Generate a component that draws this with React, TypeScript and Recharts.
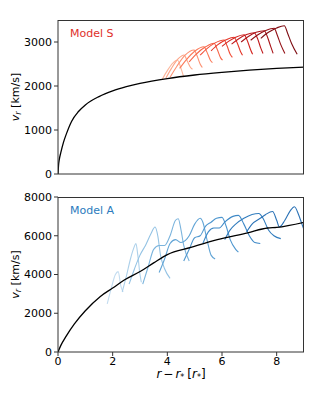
import React from "react";
import { LineChart, Line, XAxis, YAxis } from "recharts";

const FONT = "DejaVu Sans, Verdana, sans-serif";

// x positions in r - r* [r*], velocities in km/s
const xTicks = [0, 2, 4, 6, 8];
const sTicks = [0, 1000, 2000, 3000];
const aTicks = [0, 2000, 4000, 6000, 8000];

const sMean: [number, number][] = [
  [0, 0], [0.02, 200], [0.05, 340], [0.1, 480], [0.2, 720], [0.3, 900],
  [0.5, 1200], [0.75, 1420], [1, 1570], [1.5, 1760], [2, 1890], [2.5, 1985],
  [3, 2060], [4, 2170], [5, 2250], [6, 2310], [7, 2360], [8, 2400], [9, 2430],
];

const sShells: [number, number][][] = [
  [[3.82, 2160], [4.0, 2350], [4.2, 2520], [4.37, 2590], [4.5, 2400], [4.6, 2200]],
  [[3.95, 2180], [4.15, 2400], [4.4, 2620], [4.61, 2705], [4.72, 2580], [4.85, 2420], [4.92, 2380]],
  [[4.1, 2200], [4.35, 2450], [4.65, 2700], [4.98, 2818], [5.08, 2700], [5.2, 2500], [5.28, 2420]],
  [[4.45, 2400], [4.7, 2600], [5.0, 2790], [5.34, 2893], [5.45, 2770], [5.58, 2580], [5.65, 2530]],
  [[4.8, 2550], [5.05, 2720], [5.4, 2890], [5.71, 2970], [5.82, 2840], [5.95, 2640], [6.02, 2590]],
  [[5.2, 2700], [5.45, 2850], [5.75, 2980], [6.08, 3045], [6.18, 2920], [6.3, 2720], [6.38, 2650]],
  [[5.6, 2800], [5.85, 2940], [6.15, 3050], [6.44, 3107], [6.55, 2990], [6.68, 2780], [6.75, 2700]],
  [[6.0, 2900], [6.25, 3020], [6.5, 3110], [6.81, 3166], [6.92, 3040], [7.05, 2820], [7.12, 2720]],
  [[6.35, 2950], [6.6, 3070], [6.9, 3170], [7.18, 3211], [7.3, 3080], [7.42, 2860], [7.5, 2740]],
  [[6.7, 3000], [6.95, 3120], [7.25, 3220], [7.55, 3257], [7.66, 3120], [7.78, 2900], [7.87, 2740]],
  [[7.05, 3040], [7.3, 3160], [7.6, 3260], [7.91, 3311], [8.02, 3160], [8.15, 2940], [8.3, 2740]],
  [[7.42, 3084], [7.7, 3220], [8.0, 3320], [8.28, 3370], [8.4, 3200], [8.55, 2960], [8.75, 2720]],
];

const sColors = [
  "#fcb79c", "#fca689", "#fc9172", "#fb7a5a", "#f76447", "#f14c36",
  "#e33629", "#d42621", "#c0191c", "#a91318", "#930f15", "#7e0c12",
];

const aMean: [number, number][] = [
  [0, 0], [0.1, 330], [0.3, 820], [0.6, 1450], [1.0, 2130], [1.55, 2870],
  [2.0, 3300], [2.41, 3700], [3.02, 4165], [3.5, 4600], [4.0, 5030], [4.86, 5400],
  [5.83, 5800], [6.94, 6150], [7.67, 6400], [8.0, 6430], [9.0, 6690],
];

const aShells: [number, number][][] = [
  [[1.8, 2480], [1.95, 3300], [2.1, 4000], [2.2, 4150], [2.3, 3400], [2.38, 3100]],
  [[2.35, 3100], [2.5, 3900], [2.65, 4800], [2.78, 5400], [2.85, 5600], [2.92, 5000], [3.0, 4000], [3.05, 3600]],
  [[2.6, 3500], [2.8, 4300], [3.0, 5000], [3.2, 5500], [3.4, 6100], [3.55, 6450], [3.65, 6000], [3.75, 5000], [3.9, 4300], [4.1, 3800]],
  [[3.1, 3500], [3.3, 4400], [3.5, 5300], [3.7, 5500], [3.9, 5500], [4.1, 6000], [4.3, 6800], [4.4, 6880], [4.5, 6300], [4.6, 5500], [4.8, 4700]],
  [[3.7, 4100], [3.9, 4800], [4.1, 5600], [4.3, 5800], [4.5, 5650], [4.8, 6000], [5.0, 6600], [5.2, 6900], [5.3, 6700], [5.45, 5800], [5.6, 5000], [5.75, 4800]],
  [[4.6, 4700], [4.8, 5300], [5.0, 5900], [5.2, 6000], [5.4, 6500], [5.6, 6700], [5.8, 6900], [6.0, 6950], [6.15, 6500], [6.3, 5800], [6.5, 5300], [6.6, 5150]],
  [[5.3, 5600], [5.5, 6200], [5.7, 6400], [5.9, 6400], [6.1, 6700], [6.4, 7000], [6.6, 7050], [6.8, 6600], [7.0, 6000], [7.2, 5650], [7.4, 5600]],
  [[6.1, 5800], [6.3, 6300], [6.5, 6600], [6.8, 6900], [7.1, 7100], [7.35, 7150], [7.5, 6900], [7.7, 6300], [7.9, 6000], [8.15, 5850]],
  [[6.9, 6200], [7.1, 6600], [7.4, 6900], [7.6, 7100], [7.85, 7250], [8.0, 6800], [8.1, 6450], [8.3, 6800], [8.5, 7300], [8.65, 7500], [8.8, 7100], [8.9, 6700], [9.0, 6300]],
];

const aColors = [
  "#c2dcf0", "#acd0ea", "#94c3e4", "#7bb4dd", "#62a5d6", "#4f97cf",
  "#3f89c7", "#327dbe", "#2a72b6",
];

const toPts = (arr: [number, number][]) => arr.map(([x, v]) => ({ x, v }));

const AXIS = "#333";
const PLOT_LEFT = 58;
const PLOT_RIGHT = 16;

function YLabel(props: any) {
  const { viewBox } = props;
  const cx = viewBox.x + 11;
  const cy = viewBox.y + viewBox.height / 2;
  return (
    <text
      x={cx}
      y={cy}
      transform={`rotate(-90, ${cx}, ${cy})`}
      textAnchor="middle"
      fontSize={11}
      fontFamily={FONT}
      fill="#000"
    >
      <tspan fontStyle="italic">v</tspan>
      <tspan fontSize={8} fontStyle="italic" dy={2}>r</tspan>
      <tspan dy={-2}> [km/s]</tspan>
    </text>
  );
}

function XLabel(props: any) {
  const { viewBox } = props;
  const cx = viewBox.x + viewBox.width / 2;
  const cy = viewBox.y + 26;
  return (
    <text x={cx} y={cy} textAnchor="middle" fontSize={12} fontFamily={FONT} fill="#000">
      <tspan fontStyle="italic">r</tspan>
      <tspan dx={2}>−</tspan>
      <tspan dx={2} fontStyle="italic">r</tspan>
      <tspan fontSize={8} dy={2}>*</tspan>
      <tspan dy={-2} dx={3}>[</tspan>
      <tspan fontStyle="italic">r</tspan>
      <tspan fontSize={8} dy={2}>*</tspan>
      <tspan dy={-2}>]</tspan>
    </text>
  );
}

function Panel({
  mean,
  shells,
  colors,
  yMax,
  yTicks,
  title,
  titleColor,
  top,
  height,
  marginTop,
  xAxisHeight,
  showX,
}: {
  mean: [number, number][];
  shells: [number, number][][];
  colors: string[];
  yMax: number;
  yTicks: number[];
  title: string;
  titleColor: string;
  top: number;
  height: number;
  marginTop: number;
  xAxisHeight: number;
  showX: boolean;
}) {
  const tickStyle = { fill: "#000", fontSize: 11, fontFamily: FONT };
  return (
    <div style={{ position: "absolute", left: 0, top, width: 320, height }}>
      <LineChart width={320} height={height} margin={{ top: marginTop, right: PLOT_RIGHT, left: 8, bottom: 0 }}>
        <XAxis
          dataKey="x"
          type="number"
          domain={[0, 9]}
          ticks={xTicks}
          allowDataOverflow
          height={xAxisHeight}
          tick={showX ? tickStyle : false}
          tickSize={4}
          tickMargin={1}
          stroke={AXIS}
          tickLine={{ stroke: AXIS }}
          label={showX ? <XLabel /> : undefined}
        />
        <YAxis
          type="number"
          domain={[0, yMax]}
          ticks={yTicks}
          allowDataOverflow
          width={50}
          tick={tickStyle}
          tickSize={4}
          tickMargin={2}
          stroke={AXIS}
          tickLine={{ stroke: AXIS }}
          label={<YLabel />}
        />
        {shells.map((s, i) => (
          <Line
            key={`s${i}`}
            data={toPts(s)}
            dataKey="v"
            type="monotone"
            stroke={colors[i]}
            strokeWidth={1.1}
            dot={false}
            isAnimationActive={false}
          />
        ))}
        <Line
          data={toPts(mean)}
          dataKey="v"
          type="monotone"
          stroke="#000"
          strokeWidth={1.3}
          dot={false}
          isAnimationActive={false}
        />
      </LineChart>
      {/* axes frame (top and right spines) */}
      <div
        style={{
          position: "absolute",
          left: PLOT_LEFT,
          top: marginTop,
          width: 320 - PLOT_LEFT - PLOT_RIGHT,
          height: height - marginTop - xAxisHeight,
          boxSizing: "border-box",
          borderTop: `1px solid ${AXIS}`,
          borderRight: `1px solid ${AXIS}`,
          pointerEvents: "none",
        }}
      />
      <div
        style={{
          position: "absolute",
          left: 70,
          top: marginTop + 7,
          fontFamily: FONT,
          fontSize: 11,
          color: titleColor,
          lineHeight: "13px",
        }}
      >
        {title}
      </div>
    </div>
  );
}

export default function App() {
  return (
    <div style={{ position: "absolute", left: 0, top: 0, width: 320, height: 400, background: "#fff" }}>
      <Panel
        mean={sMean}
        shells={sShells}
        colors={sColors}
        yMax={3500}
        yTicks={sTicks}
        title="Model S"
        titleColor="#e0302a"
        top={0}
        height={180}
        marginTop={20}
        xAxisHeight={6}
        showX={false}
      />
      <Panel
        mean={aMean}
        shells={aShells}
        colors={aColors}
        yMax={8000}
        yTicks={aTicks}
        title="Model A"
        titleColor="#2b7bbd"
        top={190}
        height={210}
        marginTop={7}
        xAxisHeight={48}
        showX
      />
    </div>
  );
}
